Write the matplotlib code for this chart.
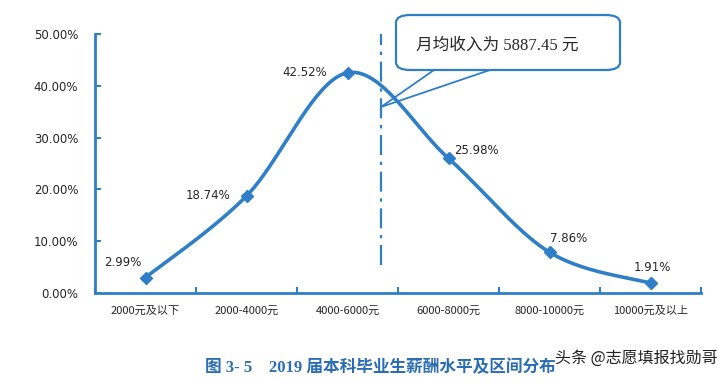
"""
Distribution of monthly salary for 2019 undergraduate graduates,
drawn as an Excel-style smoothed line with a mean-income callout.
"""

import matplotlib
matplotlib.use("Agg")
import matplotlib.pyplot as plt
import numpy as np
from matplotlib.patches import FancyBboxPatch, Polygon

plt.rcParams["font.family"] = ["Noto Sans CJK SC", "DejaVu Sans"]

categories = ["2000元及以下", "2000-4000元", "4000-6000元",
              "6000-8000元", "8000-10000元", "10000元及以上"]
shares = [2.99, 18.74, 42.52, 25.98, 7.86, 1.91]
share_labels = ["2.99%", "18.74%", "42.52%", "25.98%", "7.86%", "1.91%"]
y_ticks = [0, 10, 20, 30, 40, 50]
mean_income = 5887.45

BLUE = "#2f7fc8"
TEXT = "#262626"
SERIF = ["Liberation Serif", "Noto Sans CJK SC"]


def smooth_curve(x, y, steps=40):
    """Excel-like smoothed line: cubic Bezier with tangent (P[i+1]-P[i-1])/6."""
    pts = np.column_stack([x, y]).astype(float)
    padded = np.vstack([pts[0], pts, pts[-1]])
    out = []
    t = np.linspace(0, 1, steps)[:, None]
    for i in range(len(pts) - 1):
        p0, p3 = pts[i], pts[i + 1]
        p1 = p0 + (padded[i + 2] - padded[i]) / 6
        p2 = p3 - (padded[i + 3] - padded[i + 1]) / 6
        seg = ((1 - t) ** 3) * p0 + 3 * ((1 - t) ** 2) * t * p1 \
            + 3 * (1 - t) * t ** 2 * p2 + t ** 3 * p3
        out.append(seg if i == 0 else seg[1:])
    seg = np.vstack(out)
    return seg[:, 0], seg[:, 1]


fig = plt.figure(figsize=(7.21, 3.82), dpi=100)
ax = fig.add_axes([0.1318, 0.2330, 0.8405, 0.6780])

x = np.arange(len(categories))
sx, sy = smooth_curve(x, shares)
ax.plot(sx, sy, color=BLUE, lw=2.6, solid_capstyle="round", zorder=3)
ax.plot(x, shares, ls="none", marker="D", ms=6.5, color=BLUE, zorder=4)

ax.set_xlim(-0.5, len(categories) - 0.5)
ax.set_ylim(0, 50)
ax.set_yticks(y_ticks)
ax.set_yticklabels([f"{v:.2f}%" for v in y_ticks], fontsize=8.5, color=TEXT,
                   family="DejaVu Sans")
ax.set_xticks(x)
ax.set_xticklabels(categories, fontsize=8, color=TEXT)
ax.set_xticks(np.arange(-0.5, len(categories)), minor=True)
ax.tick_params(axis="x", which="major", length=0, pad=9)
ax.tick_params(axis="x", which="minor", direction="in", length=4,
               color=BLUE, width=1.5)
ax.tick_params(axis="y", direction="in", length=4, color=BLUE, width=1.5,
               pad=12)
for side in ("top", "right"):
    ax.spines[side].set_visible(False)
for side in ("left", "bottom"):
    ax.spines[side].set_color(BLUE)
    ax.spines[side].set_linewidth(2)

# data labels (offsets in points)
label_offsets = [(-16.5, 11), (-28, 0), (-31, 0), (20, 6), (14, 10), (1.5, 11)]
for xi, yi, lab, (dx, dy) in zip(x, shares, share_labels, label_offsets):
    ax.annotate(lab, (xi, yi), xytext=(dx, dy), textcoords="offset points",
                ha="center", va="center", fontsize=8.5, color=TEXT,
                family="DejaVu Sans")

# mean income marker, placed between the 4000-6000 and 6000-8000 bins
mean_x = 2.33
ax.plot([mean_x, mean_x], [5.5, 50], color=BLUE, lw=1.6,
        ls=(0, (9, 3, 1.5, 3)), zorder=2)

# callout box (figure pixel coords)
W, H = 721, 382


def fp(px, py):
    return px / W, 1 - py / H


bx0, by0 = fp(396, 70)
bx1, by1 = fp(620, 15)
box = FancyBboxPatch((bx0, by0), bx1 - bx0, by1 - by0,
                     boxstyle="round,pad=0,rounding_size=0.02",
                     transform=fig.transFigure, fc="white", ec=BLUE, lw=1.6,
                     zorder=5)
fig.patches.append(box)
tail = Polygon([fp(434, 70), fp(381, 107), fp(490, 70)], closed=False,
               transform=fig.transFigure, fill=False, ec=BLUE, lw=1.3)
fig.patches.append(tail)
fig.text(*fp(497, 46), f"月均收入为 {mean_income:.2f} 元", ha="center",
         va="center", fontsize=12, color=TEXT, zorder=6, family=SERIF)

fig.text(*fp(380, 368), "图 3- 5　2019 届本科毕业生薪酬水平及区间分布",
         ha="center", va="center", fontsize=12, color="#2a6db5",
         fontweight="bold", family=SERIF)
fig.text(*fp(636, 358), "头条 @志愿填报找勋哥", ha="center", va="center",
         fontsize=11.5, color="#222222")

fig.savefig("out.png", dpi=100)
